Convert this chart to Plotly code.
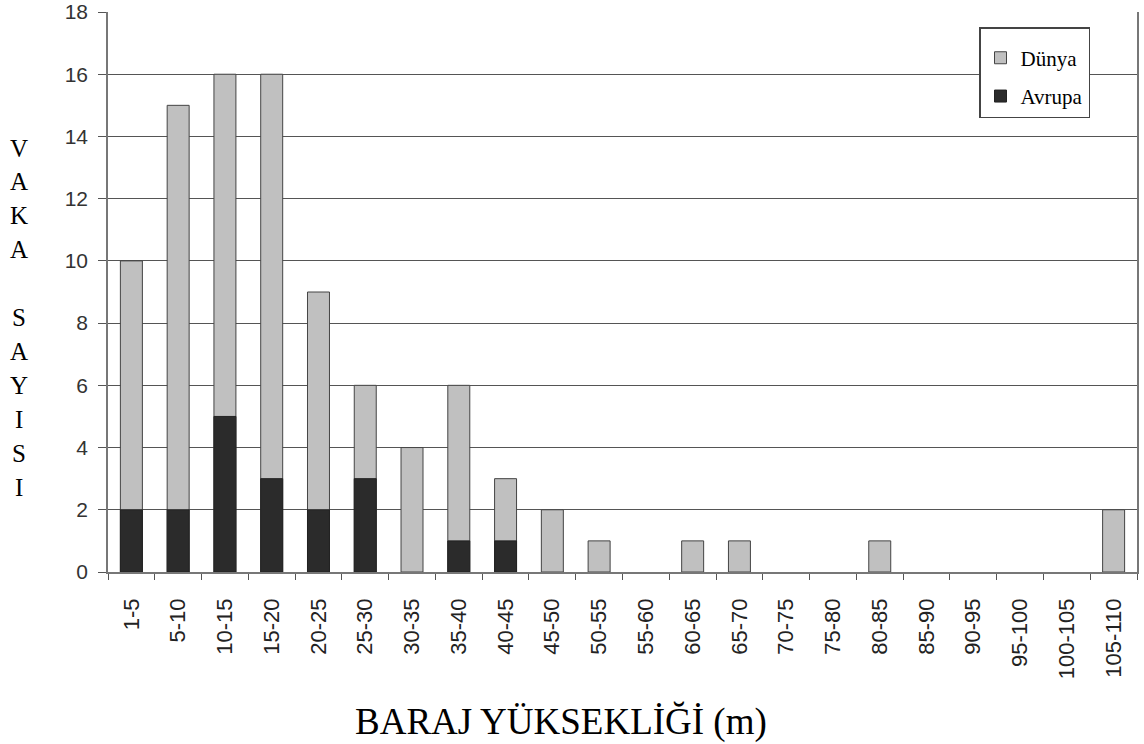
import plotly.graph_objects as go

categories = ["1-5", "5-10", "10-15", "15-20", "20-25", "25-30", "30-35", "35-40",
              "40-45", "45-50", "50-55", "55-60", "60-65", "65-70", "70-75", "75-80",
              "80-85", "85-90", "90-95", "95-100", "100-105", "105-110"]
dunya = [10, 15, 16, 16, 9, 6, 4, 6, 3, 2, 1, 0, 1, 1, 0, 0, 1, 0, 0, 0, 0, 2]
avrupa = [2, 2, 5, 3, 2, 3, 0, 1, 1, 0, 0, 0, 0, 0, 0, 0, 0, 0, 0, 0, 0, 0]
y_ticks = [0, 2, 4, 6, 8, 10, 12, 14, 16, 18]
y_title_letters = ["V", "A", "K", "A", "", "S", "A", "Y", "I", "S", "I"]
x_title = "BARAJ YÜKSEKLİĞİ (m)"

W, H = 1144, 744
ML, MR, MT, MB = 108, 7, 12, 172
plot_h = H - MT - MB
plot_w = W - ML - MR

# zero counts are not drawn as bars
dunya_plot = [v if v else None for v in dunya]
avrupa_plot = [v if v else None for v in avrupa]

fig = go.Figure()
fig.add_trace(go.Bar(x=categories, y=dunya_plot, name="Dünya", legendgroup="d",
                     marker=dict(color="#c0c0c0", line=dict(color="#444444", width=1))))
fig.add_trace(go.Bar(x=categories, y=avrupa_plot, name="Avrupa", legendgroup="a",
                     marker=dict(color="#2b2b2b", line=dict(color="#222222", width=1))))

fig.update_layout(
    barmode="overlay",
    bargap=0.53,
    width=W, height=H,
    margin=dict(l=ML, r=MR, t=MT, b=MB),
    plot_bgcolor="white", paper_bgcolor="white",
    showlegend=True,
    legend=dict(x=(979 - ML) / plot_w, y=(H - MB - 27) / plot_h,
                xanchor="left", yanchor="top",
                bordercolor="#444444", borderwidth=1.5, bgcolor="white",
                font=dict(family="Liberation Serif", size=21, color="black"),
                title=dict(text="&nbsp;", font=dict(size=7)),
                tracegroupgap=8, itemwidth=30, entrywidth=100),
    xaxis=dict(type="category", tickson="boundaries", ticks="outside", ticklen=6,
               tickcolor="#555555", tickangle=-90, automargin=False,
               ticklabelstandoff=16,
               tickfont=dict(family="Liberation Sans", size=22, color="#222222"),
               showline=True, linecolor="#777777", linewidth=1.5, mirror=False,
               showgrid=False),
    yaxis=dict(range=[0, 18], tickvals=y_ticks, ticks="outside", ticklen=8,
               tickcolor="#555555", automargin=False, ticklabelstandoff=6,
               tickfont=dict(family="Liberation Sans", size=21, color="#333333"),
               showline=True, linecolor="#777777", linewidth=1.5, mirror=True,
               showgrid=True, gridcolor="#555555", gridwidth=1.3, zeroline=False),
)

# vertical stacked y-axis title, one letter per row
top_c, bot_c = 148, 487
step = (bot_c - top_c) / (len(y_title_letters) - 1)
for i, ch in enumerate(y_title_letters):
    if not ch:
        continue
    py = top_c + i * step
    fig.add_annotation(text=ch, xref="paper", yref="paper",
                       x=(19 - ML) / plot_w, y=(H - MB - py) / plot_h,
                       xanchor="center", yanchor="middle", showarrow=False,
                       font=dict(family="Liberation Serif", size=25, color="black"))

fig.add_annotation(text=x_title, xref="paper", yref="paper",
                   x=(561 - ML) / plot_w, y=(H - MB - 722) / plot_h,
                   xanchor="center", yanchor="middle", showarrow=False,
                   font=dict(family="Liberation Serif", size=37, color="black"))

fig.write_html("out.html", config={"displayModeBar": False},
               post_script="document.body.style.margin='0';document.body.style.overflow='hidden';")
